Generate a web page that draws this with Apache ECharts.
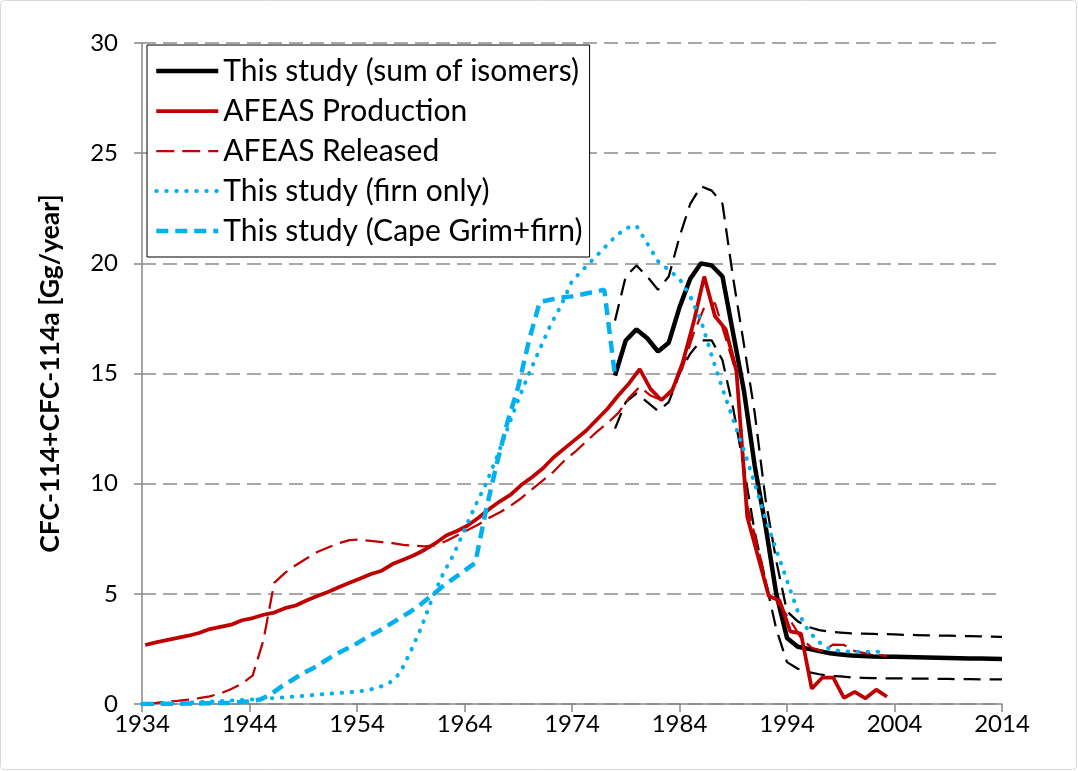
<!DOCTYPE html>
<html>
<head>
<meta charset="utf-8">
<script src="https://cdn.jsdelivr.net/npm/echarts@6/dist/echarts.min.js"></script>
<style>
  html, body { margin: 0; padding: 0; background: #fff; }
  #chart { width: 1078px; height: 771px; }
</style>
</head>
<body>
<div id="chart"></div>
<script>
// AFEAS series (points sit a little after the year mark in the original)
const afeasYears = [
  1934.3, 1935.3, 1936.3, 1937.3, 1938.3, 1939.3, 1940.3, 1941.3, 1942.3, 1943.3,
  1944.3, 1945.3, 1946.3, 1947.3, 1948.3, 1949.3, 1950.3, 1951.3, 1952.3, 1953.3,
  1954.3, 1955.3, 1956.3, 1957.3, 1958.3, 1959.3, 1960.3, 1961.3, 1962.3, 1963.3,
  1964.3, 1965.3, 1966.3, 1967.3, 1968.3, 1969.3, 1970.3, 1971.3, 1972.3, 1973.3,
  1974.3, 1975.3, 1976.3, 1977.3, 1978.3, 1979.3, 1980.3, 1981.3, 1982.3, 1983.3,
  1984.3, 1985.3, 1986.3, 1987.3, 1988.3, 1989.3, 1990.3, 1991.3, 1992.3, 1993.3,
  1994.3, 1995.3, 1996.3, 1997.3, 1998.3, 1999.3, 2000.3, 2001.3, 2002.3, 2003.3
];
const afeasProduction = [
  2.68, 2.8, 2.9, 3.0, 3.1, 3.22, 3.4, 3.5, 3.6, 3.8,
  3.9, 4.05, 4.15, 4.35, 4.47, 4.7, 4.9, 5.08, 5.3, 5.5,
  5.7, 5.9, 6.05, 6.35, 6.55, 6.75, 7.0, 7.3, 7.65, 7.85,
  8.1, 8.45, 8.85, 9.2, 9.5, 9.95, 10.3, 10.7, 11.2, 11.6,
  12.0, 12.4, 12.9, 13.4, 14.0, 14.55, 15.2, 14.3, 13.8, 14.2,
  15.5, 17.3, 19.4, 17.6, 17.0, 15.1, 8.5, 6.7, 4.9, 4.7,
  3.3, 3.2, 0.7, 1.2, 1.2, 0.28, 0.55, 0.26, 0.65, 0.33
];
const afeasReleased = [
  0.03, 0.05, 0.1, 0.14, 0.2, 0.27, 0.35, 0.48, 0.68, 0.92,
  1.3, 2.9, 5.5, 5.95, 6.3, 6.6, 6.9, 7.1, 7.3, 7.44,
  7.46, 7.4, 7.35, 7.3, 7.22, 7.18, 7.15, 7.2, 7.4, 7.65,
  7.9, 8.15, 8.45, 8.7, 9.0, 9.35, 9.75, 10.15, 10.55, 11.05,
  11.45, 11.9, 12.35, 12.75, 13.2, 13.9, 14.4, 14.0, 13.8, 14.3,
  15.3, 16.8, 18.0, 18.2, 16.6, 15.0, 9.0, 7.1, 5.0, 4.5,
  3.8, 3.0, 2.55, 2.4, 2.7, 2.68, 2.4, 2.3, 2.25, 2.17
];

// This study, sum of isomers with its upper / lower bounds
const studyYears = [
  1978, 1979, 1980, 1981, 1982, 1983, 1984, 1985, 1986, 1987,
  1988, 1989, 1990, 1991, 1992, 1993, 1994, 1995, 1996, 1997,
  1998, 1999, 2000, 2001, 2002, 2003, 2004, 2005, 2006, 2007,
  2008, 2009, 2010, 2011, 2012, 2013, 2014
];
const sumIsomers = [
  14.9, 16.5, 17.0, 16.6, 16.0, 16.4, 18.0, 19.3, 20.0, 19.9,
  19.4, 16.8, 14.2, 10.8, 8.1, 5.0, 3.0, 2.6, 2.5, 2.4,
  2.3, 2.25, 2.2, 2.18, 2.16, 2.15, 2.14, 2.13, 2.12, 2.11,
  2.1, 2.09, 2.08, 2.07, 2.06, 2.05, 2.04
];
const sumUpper = [
  17.4, 19.4, 19.9, 19.4, 18.8, 19.4, 21.2, 22.7, 23.5, 23.3,
  22.7, 19.3, 16.3, 13.2, 9.3, 6.5, 4.2, 3.75, 3.5, 3.35,
  3.28, 3.24, 3.2, 3.19, 3.18, 3.17, 3.16, 3.14, 3.13, 3.12,
  3.11, 3.1, 3.09, 3.08, 3.07, 3.06, 3.05
];
const sumLower = [
  12.5, 13.7, 14.1, 13.7, 13.3, 13.7, 15.0, 15.9, 16.5, 16.5,
  15.6, 13.4, 10.7, 7.8, 5.6, 3.4, 1.9, 1.6, 1.45, 1.35,
  1.28, 1.25, 1.2, 1.19, 1.18, 1.17, 1.16, 1.16, 1.15, 1.15,
  1.14, 1.14, 1.13, 1.13, 1.12, 1.12, 1.12
];

// firn only
const firnYears = [
  1934, 1935, 1936, 1937, 1938, 1939, 1940, 1941, 1942, 1943,
  1944, 1945, 1946, 1947, 1948, 1949, 1950, 1951, 1952, 1953,
  1954, 1955, 1956, 1957, 1958, 1959, 1960, 1961, 1962, 1963,
  1964, 1965, 1966, 1967, 1968, 1969, 1970, 1971, 1972, 1973,
  1974, 1975, 1976, 1977, 1978, 1979, 1980, 1981, 1982, 1983,
  1984, 1985, 1986, 1987, 1988, 1989, 1990, 1991, 1992, 1993,
  1994, 1995, 1996, 1997, 1998, 1999, 2000, 2001, 2002, 2003
];
const firnOnly = [
  0.0, 0.0, 0.02, 0.03, 0.05, 0.07, 0.1, 0.12, 0.15, 0.18,
  0.2, 0.23, 0.26, 0.29, 0.33, 0.37, 0.41, 0.45, 0.49, 0.52,
  0.56, 0.63, 0.75, 0.95, 1.4, 2.4, 3.5, 4.8, 5.9, 6.8,
  7.9, 9.0, 10.0, 11.2, 12.5, 13.8, 15.0, 16.1, 17.2, 18.1,
  19.2, 19.7, 20.2, 20.7, 21.2, 21.6, 21.7, 20.9, 20.1, 19.7,
  19.3, 18.5, 17.4, 15.8, 14.3, 12.9, 11.5, 10.0, 8.4, 7.0,
  5.6, 4.2, 3.3, 2.8, 2.48, 2.4, 2.37, 2.37, 2.37, 2.37
];

// Cape Grim + firn
const capeYears = [
  1934, 1935, 1936, 1937, 1938, 1939, 1940, 1941, 1942, 1943,
  1944, 1945, 1946, 1947, 1948, 1949, 1950, 1951, 1952, 1953,
  1954, 1955, 1956, 1957, 1958, 1959, 1960, 1961, 1962, 1963,
  1964, 1965, 1966, 1967, 1968, 1969, 1970, 1971, 1972, 1973,
  1974, 1975, 1976, 1977, 1978
];
const capeGrimFirn = [
  0.0, 0.0, 0.01, 0.01, 0.02, 0.02, 0.03, 0.04, 0.05, 0.08,
  0.12, 0.2, 0.45, 0.8, 1.1, 1.4, 1.65, 1.95, 2.25, 2.5,
  2.75, 3.05, 3.3, 3.6, 3.9, 4.2, 4.55, 4.95, 5.35, 5.7,
  6.05, 6.4, 8.8, 10.9, 12.8, 14.4, 16.5, 18.25, 18.35, 18.45,
  18.5, 18.6, 18.7, 18.8, 14.9
];

const yTicks = [0, 5, 10, 15, 20, 25, 30];
const xTicks = [1934, 1944, 1954, 1964, 1974, 1984, 1994, 2004, 2014];

const FONT = 'Lato, "Open Sans", sans-serif';
const RED = '#C00000';
const BLUE = '#00B0F0';

const pairs = (xs, ys) => xs.map((x, i) => [x, ys[i]]);

const chart = echarts.init(document.getElementById('chart'));

const lineSeries = (name, xs, ys, style) => ({
  name,
  type: 'line',
  data: pairs(xs, ys),
  symbol: 'none',
  smooth: false,
  animation: false,
  lineStyle: style,
  itemStyle: { color: style.color }
});

const option = {
  backgroundColor: '#fff',
  textStyle: { fontFamily: FONT },
  grid: { left: 142, right: 76, top: 43, bottom: 67 },
  graphic: [{
    type: 'rect',
    shape: { x: 0.5, y: 0.5, width: 1076, height: 769, r: 4 },
    style: { fill: 'none', stroke: '#d9d9d9', lineWidth: 1 },
    silent: true
  }],
  legend: {
    data: [
      'This study (sum of isomers)',
      'AFEAS Production',
      'AFEAS Released',
      'This study (firn only)',
      'This study (Cape Grim+firn)'
    ],
    orient: 'vertical',
    left: 147,
    top: 45,
    itemWidth: 62,
    itemHeight: 14,
    itemGap: 0,
    padding: [6, 7, 6, 7],
    borderColor: '#000',
    borderWidth: 1,
    backgroundColor: '#fff',
    selectedMode: false,
    itemStyle: { opacity: 0 },
    lineStyle: { width: 'inherit' },
    textStyle: { fontFamily: FONT, fontSize: 30, color: '#000', lineHeight: 40 }
  },
  xAxis: {
    type: 'value',
    min: 1934,
    max: 2014,
    interval: 10,
    axisLine: { show: true, lineStyle: { color: '#868686', width: 1.5 } },
    axisTick: { show: true, length: 8, lineStyle: { color: '#868686', width: 1.5 } },
    splitLine: { show: false },
    axisLabel: {
      margin: 8,
      fontSize: 24,
      color: '#000',
      fontFamily: FONT,
      formatter: v => (xTicks.includes(v) ? String(v) : '')
    }
  },
  yAxis: {
    type: 'value',
    min: 0,
    max: 30,
    interval: 5,
    name: 'CFC-114+CFC-114a [Gg/year]',
    nameLocation: 'middle',
    nameGap: 78,
    nameTextStyle: { fontFamily: FONT, fontSize: 26.5, fontWeight: 'bold', color: '#000' },
    axisLine: { show: true, lineStyle: { color: '#868686', width: 1.5 } },
    axisTick: { show: true, length: 8, lineStyle: { color: '#868686', width: 1.5 } },
    splitLine: { show: true, lineStyle: { color: '#8c8c8c', width: 1.5, type: [14, 7] } },
    axisLabel: {
      margin: 24,
      fontSize: 24,
      color: '#000',
      fontFamily: FONT,
      formatter: v => (yTicks.includes(v) ? String(v) : '')
    }
  },
  series: [
    lineSeries('upper', studyYears, sumUpper, { color: '#000', width: 2.25, type: [17, 9] }),
    lineSeries('lower', studyYears, sumLower, { color: '#000', width: 2.25, type: [17, 9] }),
    lineSeries('This study (sum of isomers)', studyYears, sumIsomers, { color: '#000', width: 4.5 }),
    lineSeries('AFEAS Released', afeasYears, afeasReleased, { color: RED, width: 2.25, type: [18, 8] }),
    lineSeries('AFEAS Production', afeasYears, afeasProduction, { color: RED, width: 3.75 }),
    lineSeries('This study (firn only)', firnYears, firnOnly, { color: BLUE, width: 4, type: [0.5, 9.5], cap: 'round' }),
    lineSeries('This study (Cape Grim+firn)', capeYears, capeGrimFirn, { color: BLUE, width: 4.5, type: [12, 7] })
  ]
};

chart.setOption(option);
</script>
</body>
</html>
